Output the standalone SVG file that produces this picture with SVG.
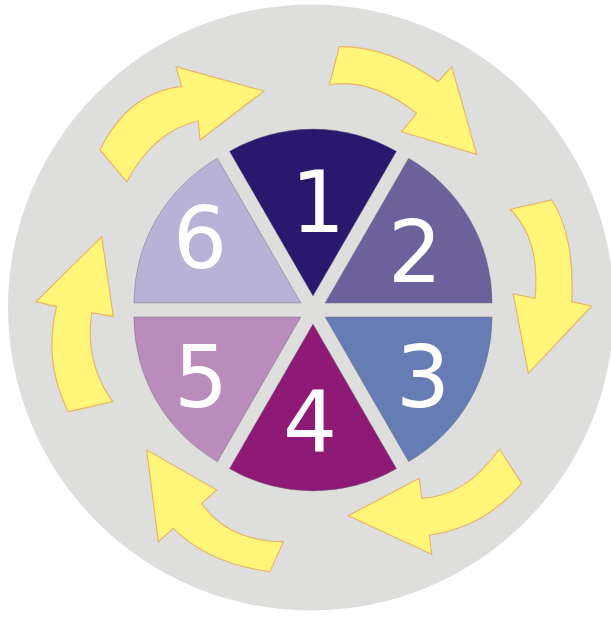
<svg xmlns="http://www.w3.org/2000/svg" width="611" height="617" viewBox="0 0 611 617">
<style>
.arrow{fill:#FFF67A;stroke:#E9B46A;stroke-width:1.2;stroke-linejoin:miter}
.wedge{stroke:#6f6f80;stroke-opacity:0.45;stroke-width:1}
.num{font-family:"DejaVu Sans",Verdana,sans-serif;font-size:85px;fill:#ffffff;text-anchor:middle}
</style>
<rect width="611" height="617" fill="#ffffff"/>
<circle id="background" cx="311" cy="307.5" r="303" fill="#DEDEDC"/>
<g id="connectors">
<path class="arrow" d="M339.3,46.7 Q387.8,45.8 438.3,81.7 L451.7,66.7 L476.7,154.3 L401.7,131.7 L416.7,113.3 Q370.4,77.5 329.3,85 Z"/>
<path class="arrow" d="M551.7,200 Q574.9,235.8 571.7,301.7 L591.7,306 L528.3,373.3 L513.3,294 L535,298.3 Q540.9,239.6 510,209.3 Z"/>
<path class="arrow" d="M499.3,449 L521.7,483.3 Q484.5,527.45 429.3,535 L431.7,554.3 L348.3,515.7 L419.3,478.3 L421.7,498.3 Q466.1,496.35 499.3,449 Z"/>
<path class="arrow" d="M146.7,450 L216.7,490 L201.7,503.3 Q227.5,540.9 283.3,541.7 L270,571.7 Q208.35,563.4 173.3,528.3 L158.3,541.7 Z"/>
<path class="arrow" d="M101.7,236.7 L113.3,316.7 L91.7,312.7 Q84.4,362.8 112.7,401.7 L68.3,411.7 Q42.9,360.8 56.7,306.7 L36,301.7 Z"/>
<path class="arrow" d="M100,150 L126.7,181.7 Q154.1,130.65 198.3,121 L200,140 L264,91 L176,66.7 L181.7,86.7 Q129.15,91.65 100,150 Z"/>
</g>
<g id="node1">
<path class="wedge" fill="#29186D" d="M313,296 L229.5,151.37 A167,167 0 0 1 396.5,151.37 Z"/>
<text class="num" x="318" y="232">1</text>
</g>
<g id="node2">
<path class="wedge" fill="#6D619C" d="M325.12,303 L408.62,158.37 A167,167 0 0 1 492.12,303 Z"/>
<text class="num" x="415" y="282">2</text>
</g>
<g id="node3">
<path class="wedge" fill="#667CB4" d="M325.12,317 L492.12,317 A167,167 0 0 1 408.62,461.63 Z"/>
<text class="num" x="423" y="407">3</text>
</g>
<g id="node4">
<path class="wedge" fill="#8E1A76" d="M313,324 L396.5,468.63 A167,167 0 0 1 229.5,468.63 Z"/>
<text class="num" x="310" y="452">4</text>
</g>
<g id="node5">
<path class="wedge" fill="#B98CBB" d="M300.88,317 L217.38,461.63 A167,167 0 0 1 133.88,317 Z"/>
<text class="num" x="201" y="407">5</text>
</g>
<g id="node6">
<path class="wedge" fill="#B8B2D6" d="M300.88,303 L133.88,303 A167,167 0 0 1 217.38,158.37 Z"/>
<text class="num" x="200" y="268">6</text>
</g>
</svg>
